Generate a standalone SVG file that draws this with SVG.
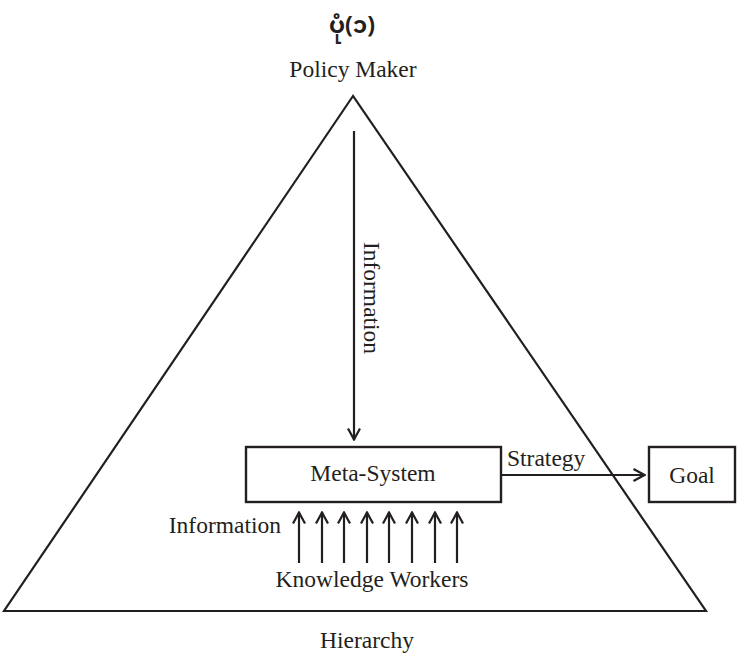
<svg xmlns="http://www.w3.org/2000/svg" width="737" height="656" viewBox="0 0 737 656">
<style>
text{font-family:'Liberation Serif','DejaVu Serif',serif}
.t{font-size:23.5px;fill:#231f20}
.ln{stroke:#231f20;stroke-width:2.2;fill:none}
.box{stroke:#231f20;stroke-width:2.4;fill:#fff}
</style>
<defs>
<marker id="ah" viewBox="0 0 14 14" refX="13" refY="7" markerWidth="14" markerHeight="14" markerUnits="userSpaceOnUse" orient="auto">
<path d="M1.5,1 L12.5,7 L1.5,13" fill="none" stroke="#231f20" stroke-width="2.2"/>
</marker>
</defs>
<rect width="737" height="656" fill="#fff"/>
<text x="352" y="33" text-anchor="middle" font-size="23" font-weight="bold" fill="#231f20" style="font-family:'Noto Sans Myanmar','Padauk','Myanmar Text','Noto Sans',sans-serif">ပုံ(၁)</text>
<g id="pyramid">
<polygon class="ln" points="353,96 4,611 706,611"/>
</g>
<g id="policy-maker"><text class="t" x="353" y="77" text-anchor="middle">Policy Maker</text></g>
<g id="hierarchy"><text class="t" x="367" y="648" text-anchor="middle">Hierarchy</text></g>
<g id="meta-system">
<rect class="box" x="246" y="447" width="255" height="55"/>
<text class="t" x="373" y="481" text-anchor="middle">Meta-System</text>
</g>
<g id="goal">
<rect class="box" x="649" y="447" width="86" height="55"/>
<text class="t" x="692" y="483" text-anchor="middle">Goal</text>
</g>
<g id="knowledge-workers"><text class="t" x="372" y="587" text-anchor="middle">Knowledge Workers</text></g>
<g id="connectors">
<line class="ln" x1="354" y1="131" x2="354" y2="440" marker-end="url(#ah)"/>
<line class="ln" x1="501" y1="475" x2="645" y2="475" marker-end="url(#ah)"/>
<line class="ln" x1="299" y1="563" x2="299" y2="512" marker-end="url(#ah)"/>
<line class="ln" x1="322" y1="563" x2="322" y2="512" marker-end="url(#ah)"/>
<line class="ln" x1="344" y1="563" x2="344" y2="512" marker-end="url(#ah)"/>
<line class="ln" x1="367" y1="563" x2="367" y2="512" marker-end="url(#ah)"/>
<line class="ln" x1="389" y1="563" x2="389" y2="512" marker-end="url(#ah)"/>
<line class="ln" x1="412" y1="563" x2="412" y2="512" marker-end="url(#ah)"/>
<line class="ln" x1="435" y1="563" x2="435" y2="512" marker-end="url(#ah)"/>
<line class="ln" x1="457" y1="563" x2="457" y2="512" marker-end="url(#ah)"/>
<text class="t" transform="translate(364,298) rotate(90)" text-anchor="middle">Information</text>
<text class="t" x="507" y="466">Strategy</text>
<text class="t" x="281" y="533" text-anchor="end">Information</text>
</g>
</svg>
